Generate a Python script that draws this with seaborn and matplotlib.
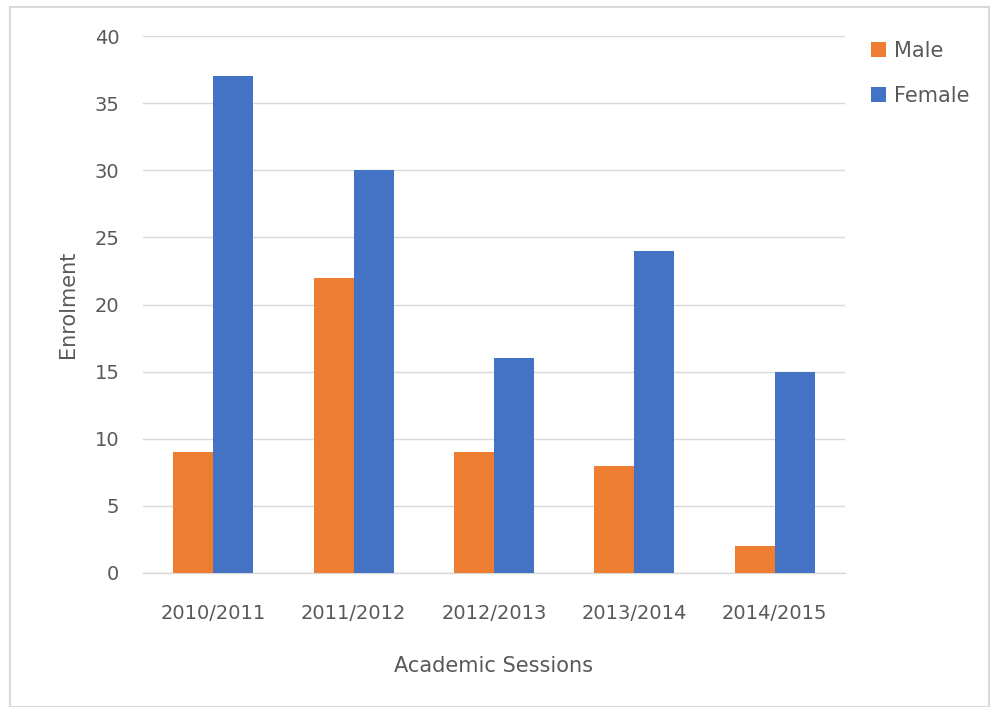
import matplotlib
matplotlib.use("Agg")
import matplotlib.pyplot as plt
import seaborn as sns
import pandas as pd
from matplotlib.patches import Rectangle

sessions = ["2010/2011", "2011/2012", "2012/2013", "2013/2014", "2014/2015"]
male = [9, 22, 9, 8, 2]
female = [37, 30, 16, 24, 15]
series_names = ["Male", "Female"]
y_ticks = [0, 5, 10, 15, 20, 25, 30, 35, 40]

df = pd.DataFrame({
    "Session": sessions * 2,
    "Enrolment": male + female,
    "Sex": [series_names[0]] * len(sessions) + [series_names[1]] * len(sessions),
})

sns.set_theme(style="white")
plt.rcParams["font.family"] = ["DejaVu Sans"]
text_color = "#595959"
grid_color = "#D9D9D9"

fig = plt.figure(figsize=(9.9, 7.07), dpi=100)
ax = fig.add_axes([143/990, 1 - 573/707, (845 - 143)/990, (573 - 36)/707])

sns.barplot(data=df, x="Session", y="Enrolment", hue="Sex",
            palette=["#ED7D31", "#4472C4"], width=0.57, gap=0,
            saturation=1, ax=ax, legend=True, zorder=3, linewidth=0)

ax.set_ylim(0, 40)
ax.set_yticks(y_ticks)
ax.set_xlim(-0.5, len(sessions) - 0.5)
ax.yaxis.grid(True, color=grid_color, linewidth=1, zorder=0)
ax.set_axisbelow(True)
for s in ["top", "right", "left"]:
    ax.spines[s].set_visible(False)
ax.spines["bottom"].set_color(grid_color)
ax.spines["bottom"].set_linewidth(1)
ax.tick_params(axis="both", length=0, labelsize=14, colors=text_color)
ax.tick_params(axis="y", pad=17)
ax.tick_params(axis="x", pad=22)
ax.set_ylabel("Enrolment", fontsize=15, color=text_color, labelpad=12)
ax.set_xlabel("Academic Sessions", fontsize=15, color=text_color, labelpad=24)

handles, labels = ax.get_legend_handles_labels()
ax.get_legend().remove()
fig.legend(handles, labels, loc="upper left", bbox_to_anchor=(871/990, 1 - 41/707),
           frameon=False, fontsize=15, handlelength=0.7, handleheight=0.7,
           handletextpad=0.4, labelspacing=1.2, labelcolor=text_color,
           borderaxespad=0, borderpad=0)

fig.patches.append(Rectangle((10/990, 0), 1 - 10/990 - 0.001, 1 - 7/707,
                             transform=fig.transFigure, fill=False,
                             edgecolor=grid_color, linewidth=1.5))

fig.savefig("out.png", dpi=100)
